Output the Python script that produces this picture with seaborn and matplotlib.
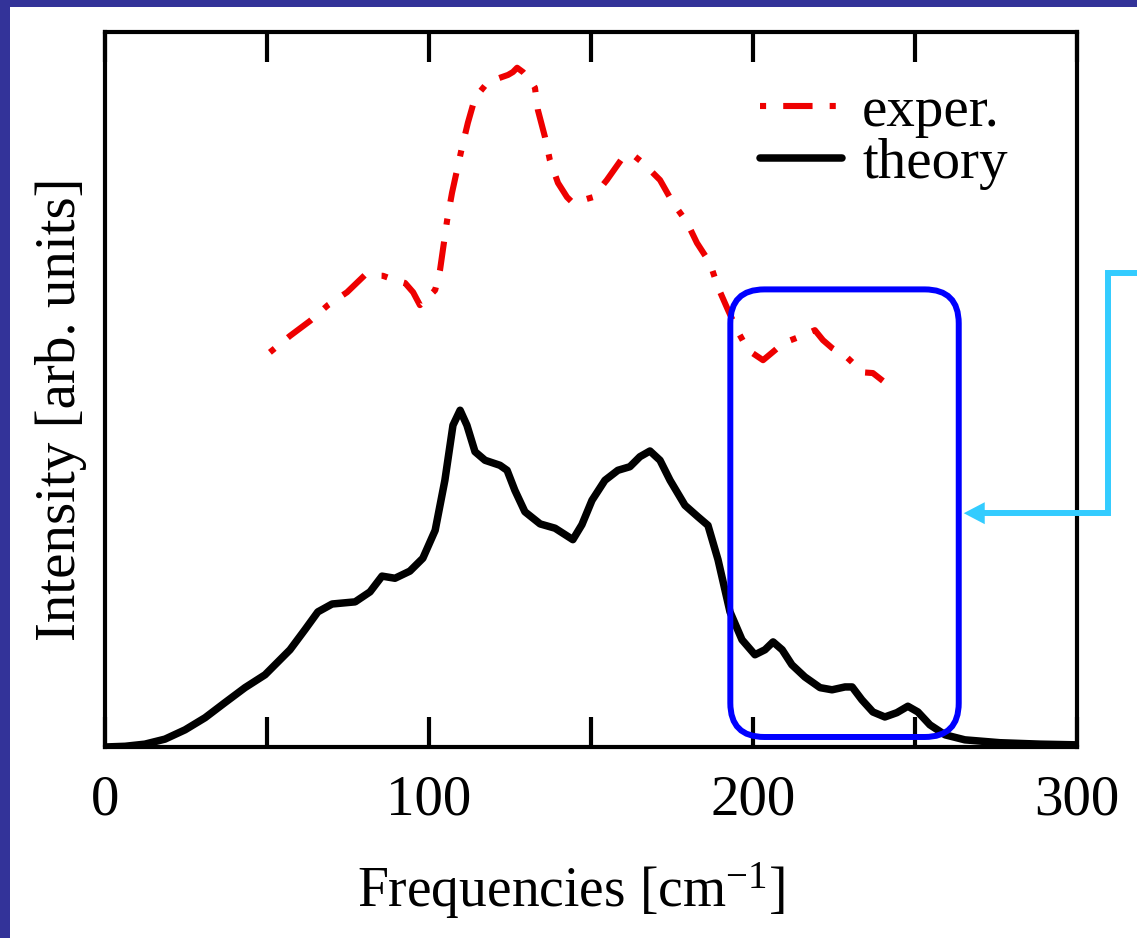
import numpy as np
import pandas as pd
import matplotlib
matplotlib.use("Agg")
import matplotlib.pyplot as plt
from matplotlib.patches import FancyBboxPatch, Rectangle, Polygon
from matplotlib.lines import Line2D
from matplotlib.transforms import IdentityTransform
import seaborn as sns

# Phonon spectrum: measured vs computed intensity
freq_theory = [0, 6.2, 12.3, 18.5, 24.7, 30.9, 37.0, 43.2, 49.4, 57.1, 61.7, 65.7,
               70.1, 77.2, 81.8, 85.5, 89.5, 94.1, 98.1, 101.9, 104.9, 107.4, 109.6,
               111.7, 114.2, 117.3, 121.9, 124.1, 126.5, 129.6, 134.3, 138.9, 142.0,
               144.4, 147.2, 150.3, 154.3, 158.3, 162.0, 165.1, 168.2, 171.3, 174.4,
               179.0, 183.0, 186.1, 189.2, 192.9, 196.6, 200.6, 203.7, 206.2, 209.0,
               212.0, 216.0, 220.7, 224.4, 228.4, 230.6, 233.6, 237.0, 240.7, 244.4,
               247.8, 250.9, 254.6, 259.3, 265.4, 276.2, 288.6, 300.0]
int_theory = [0.0, 0.01, 0.04, 0.11, 0.24, 0.41, 0.62, 0.83, 1.01, 1.36, 1.64, 1.89,
              2.00, 2.03, 2.17, 2.39, 2.36, 2.46, 2.64, 3.03, 3.73, 4.50, 4.71,
              4.50, 4.13, 4.01, 3.94, 3.87, 3.59, 3.29, 3.12, 3.06, 2.97,
              2.90, 3.11, 3.45, 3.73, 3.87, 3.92, 4.06, 4.14, 4.01, 3.73,
              3.38, 3.22, 3.10, 2.62, 1.89, 1.50, 1.29, 1.36, 1.47, 1.36,
              1.15, 0.98, 0.83, 0.80, 0.84, 0.84, 0.66, 0.49, 0.42, 0.48,
              0.57, 0.49, 0.31, 0.17, 0.10, 0.06, 0.04, 0.03]

freq_exper = [50.9, 57.1, 63.3, 68.8, 74.7, 80.2, 85.8, 89.5, 92.6, 95.1, 97.2, 99.7,
              101.9, 103.4, 105.6, 107.1, 110.2, 112.0, 114.2, 118.2, 121.9, 124.4,
              125.9, 127.2, 129.0, 131.2, 132.7, 133.6, 135.8, 137.3, 139.8, 142.6,
              144.4, 147.5, 150.6, 154.9, 159.9, 163.0, 166.0, 171.3, 175.3, 179.6,
              182.7, 186.7, 189.2, 192.3, 195.1, 198.5, 203.1, 206.8, 209.3, 215.1,
              219.1, 221.6, 224.4, 229.0, 233.9, 237.0, 240.1]
int_exper = [5.52, 5.75, 5.96, 6.18, 6.36, 6.60, 6.59, 6.53, 6.49, 6.36, 6.18, 6.29,
             6.39, 6.67, 7.37, 7.75, 8.39, 8.73, 9.08, 9.30, 9.36, 9.40,
             9.44, 9.50, 9.44, 9.33, 9.22, 8.91, 8.53, 8.21, 7.89, 7.69,
             7.61, 7.65, 7.69, 7.93, 8.25, 8.28, 8.17, 7.93, 7.61, 7.34,
             7.05, 6.77, 6.43, 6.11, 5.83, 5.55, 5.41, 5.55, 5.65, 5.75,
             5.83, 5.69, 5.58, 5.45, 5.24, 5.23, 5.12]

x_major = [0, 100, 200, 300]
x_minor = [50, 150, 250]
x_range = (0, 300)
y_range = (0, 10)

# highlighted frequency window (data units)
window_x = (193.0, 263.5)
window_y = (0.14, 6.4)

exper = pd.DataFrame({"freq": freq_exper, "intensity": int_exper})
theory = pd.DataFrame({"freq": freq_theory, "intensity": int_theory})

sns.set_theme(style="white")
plt.rcParams["font.family"] = ["Liberation Serif", "DejaVu Serif"]
plt.rcParams["mathtext.fontset"] = "custom"
plt.rcParams["mathtext.rm"] = "Liberation Serif"
plt.rcParams["mathtext.it"] = "Liberation Serif:italic"
plt.rcParams["mathtext.bf"] = "Liberation Serif:bold"
for key in ("text.color", "axes.labelcolor", "xtick.color", "ytick.color"):
    plt.rcParams[key] = "black"

FS = 41
fig = plt.figure(figsize=(11.37, 9.38), dpi=100, facecolor="white")
ax = fig.add_axes([105 / 1137, 191 / 938, 972 / 1137, 715 / 938])

# slide frame strips
fig.patches.append(Rectangle((0, 0), 10 / 1137, 1, transform=fig.transFigure,
                             facecolor="#333399", edgecolor="none", zorder=0))
fig.patches.append(Rectangle((0, 1 - 7 / 938), 1, 7 / 938, transform=fig.transFigure,
                             facecolor="#333399", edgecolor="none", zorder=0))

sns.lineplot(data=exper, x="freq", y="intensity", ax=ax, color="#ee0000",
             lw=4.4, linestyle=(7.6, (4.8, 2.8, 1.0, 2.8)), label="exper.",
             dash_capstyle="butt", dash_joinstyle="round")
sns.lineplot(data=theory, x="freq", y="intensity", ax=ax, color="black",
             lw=5.4, label="theory", solid_capstyle="round",
             solid_joinstyle="round")

ax.set_xlim(*x_range)
ax.set_ylim(*y_range)
ax.set_yticks([])
ax.set_xticks(x_major)
ax.set_xticks(x_minor, minor=True)
ax.set_xticklabels([str(v) for v in x_major])
ax.tick_params(axis="x", which="both", direction="in", length=21.6, width=3,
               top=True, bottom=True, labelsize=FS, pad=19.5, color="black")
for s in ax.spines.values():
    s.set_linewidth(3)
    s.set_color("black")

ax.set_xlabel(r"Frequencies [cm$^{-1}$]", fontsize=40)
ax.set_ylabel("Intensity [arb. units]", fontsize=FS)
ax.xaxis.set_label_coords(0.479, -0.159)
ax.yaxis.set_label_coords(-0.019, 0.473)

leg = ax.legend(loc="upper left", bbox_to_anchor=(0.674, 0.924), frameon=False,
                fontsize=FS, handlelength=1.44, handletextpad=0.35,
                borderpad=0, borderaxespad=0, labelspacing=0.0)

# rounded box around the high-frequency window, with a pointer coming in from the right
fig.canvas.draw()
(bx0, by0) = ax.transData.transform((window_x[0], window_y[0]))
(bx1, by1) = ax.transData.transform((window_x[1], window_y[1]))
box = FancyBboxPatch((bx0, by0), bx1 - bx0, by1 - by0,
                     boxstyle="round,pad=0,rounding_size=34",
                     transform=IdentityTransform(), fill=False,
                     edgecolor="#0000ff", linewidth=4.3, zorder=5)
fig.patches.append(box)

tip_x = bx1 + 5
tip_y = (by0 + by1) / 2
elbow_x = 1108
top_y = 938 - 273
cyan = "#33ccff"
fig.lines.append(Line2D([1140, elbow_x, elbow_x, tip_x + 18],
                        [top_y, top_y, tip_y, tip_y],
                        transform=IdentityTransform(), color=cyan, lw=4.3,
                        solid_joinstyle="miter", zorder=6))
fig.patches.append(Polygon([[tip_x, tip_y], [tip_x + 21, tip_y + 11],
                            [tip_x + 21, tip_y - 11]], closed=True,
                           transform=IdentityTransform(), facecolor=cyan,
                           edgecolor="none", zorder=6))

fig.savefig("out.png", dpi=100, facecolor="white")
